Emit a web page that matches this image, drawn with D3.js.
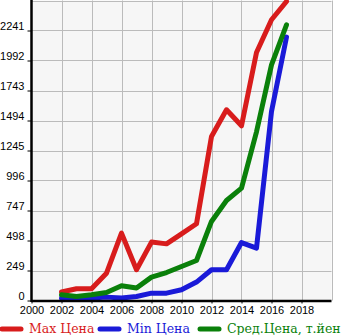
<!DOCTYPE html>
<html><head><meta charset="utf-8">
<script src="https://cdn.jsdelivr.net/npm/d3@7"></script>
<style>html,body{margin:0;padding:0;background:#fff;}svg{display:block;}</style>
</head><body>
<script>
const years = [2002,2003,2004,2005,2006,2007,2008,2009,2010,2011,2012,2013,2014,2015,2016,2017];
const maxPrice = [70,97,97,227,559,255,485,470,553,637,1361,1583,1450,2058,2330,2482];
const minPrice = [20,12,20,28,20,33,61,61,89,153,255,255,481,435,1569,2186];
const avgPrice = [47,33,47,66,122,103,194,232,282,332,656,830,933,1400,1956,2288];
const yTicks = [0,249,498,747,996,1245,1494,1743,1992,2241];
const xTicks = [2000,2002,2004,2006,2008,2010,2012,2014,2016,2018];
const seriesNames = ["Max Цена","Min Цена","Сред.Цена, т.йен"];
const seriesColors = ["#d81c1c","#1a1ad8","#0a800a"];

const W=345,H=335;
const svg=d3.select("body").append("svg").attr("width",W).attr("height",H);
const x=d3.scaleLinear().domain([2000,2020]).range([31.5,331.5]);
const y=d3.scaleLinear().domain([0,2490]).range([300.5,0.5]);

svg.append("rect").attr("x",x(2000)).attr("y",y(2490)).attr("width",x(2020)-x(2000)).attr("height",y(0)-y(2490)).attr("fill","#f6f6f6");

// grid
const g=svg.append("g");
g.selectAll("line.v").data(xTicks.concat([2020]).filter(d=>d>2000)).join("line")
 .attr("x1",d=>Math.round(x(d))+0.5).attr("x2",d=>Math.round(x(d))+0.5).attr("y1",y(2490)).attr("y2",y(0))
 .attr("stroke","#bbbbbb").attr("stroke-width",1);
g.selectAll("line.h").data(yTicks.filter(d=>d>0).concat([2490])).join("line")
 .attr("y1",d=>Math.round(y(d))+0.5).attr("y2",d=>Math.round(y(d))+0.5).attr("x1",x(2000)).attr("x2",x(2020))
 .attr("stroke","#bbbbbb").attr("stroke-width",1);

// axes
const yAxis=d3.axisLeft(y).tickValues(yTicks).tickSize(4).tickPadding(3).tickFormat(d3.format("d"));
const ya=svg.append("g").attr("transform","translate("+(x(2000))+",0)").call(yAxis);
ya.select(".domain").remove();
ya.selectAll("text").attr("dy","-0.05em");
const xAxis=d3.axisBottom(x).tickValues(xTicks).tickSize(3).tickPadding(3).tickFormat(d3.format("d"));
const xa=svg.append("g").attr("transform","translate(0,"+(y(0))+")").call(xAxis);
xa.select(".domain").remove();
[ya,xa].forEach(a=>{a.selectAll("text").attr("font-family","Liberation Sans, Arial, sans-serif").attr("font-size",11).attr("fill","#000");
 a.selectAll("line").attr("stroke","#000");});

// series
const series=[maxPrice,minPrice,avgPrice];
const line=d3.line().x((d,i)=>x(years[i])).y(d=>y(d));
series.forEach((s,k)=>{
 svg.append("path").datum(s).attr("d",line).attr("fill","none").attr("stroke",seriesColors[k])
  .attr("stroke-width",5).attr("stroke-linejoin","round").attr("stroke-linecap","round");
});

// axis lines
svg.append("line").attr("x1",x(2000)).attr("x2",x(2000)).attr("y1",0).attr("y2",y(0)+1.5).attr("stroke","#000").attr("stroke-width",2.5);
svg.append("line").attr("x1",x(2000)).attr("x2",x(2020)).attr("y1",y(0)+0.5).attr("y2",y(0)+0.5).attr("stroke","#000").attr("stroke-width",2.5);

// legend
const legX=[2,100,200];
seriesNames.forEach((n,k)=>{
 svg.append("line").attr("x1",legX[k]).attr("x2",legX[k]+19).attr("y1",329).attr("y2",329)
  .attr("stroke",seriesColors[k]).attr("stroke-width",5).attr("stroke-linecap","round");
 svg.append("text").attr("x",legX[k]+27).attr("y",333).text(n).attr("fill",seriesColors[k])
  .attr("font-family","DejaVu Serif, serif").attr("font-size",12.5);
});
</script>
</body></html>
